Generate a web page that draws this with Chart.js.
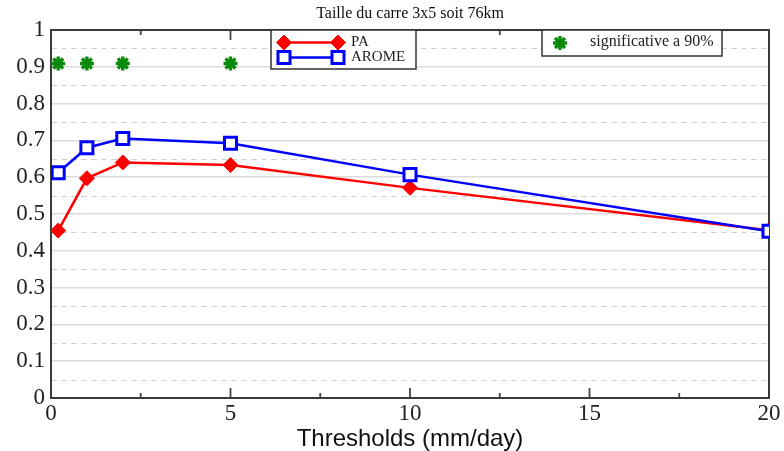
<!DOCTYPE html>
<html>
<head>
<meta charset="utf-8">
<script src="https://cdn.jsdelivr.net/npm/chart.js@4/dist/chart.umd.min.js"></script>
<style>
  html, body { margin: 0; padding: 0; background: #fff; }
  #wrap { width: 784px; height: 451px; }
</style>
</head>
<body>
<div id="wrap"><canvas id="scoreChart" width="784" height="451"></canvas></div>
<script>
// Seuils de pluie (mm/jour) et scores par modele
const thresholds = [0.2, 1, 2, 5, 10, 20];
const paScores = [0.455, 0.597, 0.640, 0.633, 0.571, 0.456];
const aromeScores = [0.612, 0.680, 0.705, 0.692, 0.607, 0.453];

// Seuils ou la difference est significative a 90%
const significantThresholds = [0.2, 1, 2, 5];
const significantMarks = [0.909, 0.909, 0.909, 0.909];

const xTicks = [0, 5, 10, 15, 20];
const xMinorTicks = [2.5, 7.5, 12.5, 17.5];
const yHalfSteps = [0.05, 0.15, 0.25, 0.35, 0.45, 0.55, 0.65, 0.75, 0.85, 0.95];

const chartTitle = 'Taille du carre 3x5 soit 76km';
const xTitle = 'Thresholds (mm/day)';

const serif = "'Liberation Serif', 'DejaVu Serif', serif";
const RED = '#ff0000';
const BLUE = '#0000ff';
const GREEN = '#0a8a0a';

const toPoints = (xs, ys) => xs.map((x, i) => ({ x: x, y: ys[i] }));

// grille en pointilles aux demi-pas, graduations internes, cadre et legendes
const matlabFrame = {
    id: 'matlabFrame',
    beforeDatasetsDraw(chart) {
        const { ctx, chartArea: a, scales } = chart;
        ctx.save();
        ctx.strokeStyle = '#d2d2d2';
        ctx.lineWidth = 1.2;
        ctx.setLineDash([6, 4]);
        yHalfSteps.forEach(v => {
            const y = Math.round(scales.y.getPixelForValue(v)) + 0.5;
            ctx.beginPath();
            ctx.moveTo(a.left, y);
            ctx.lineTo(a.right, y);
            ctx.stroke();
        });
        ctx.setLineDash([]);

        // graduations vers l'interieur, en bas et en haut
        ctx.strokeStyle = '#444';
        ctx.lineWidth = 1.8;
        const tick = (v, len) => {
            const x = scales.x.getPixelForValue(v);
            ctx.beginPath();
            ctx.moveTo(x, a.bottom);
            ctx.lineTo(x, a.bottom - len);
            ctx.moveTo(x, a.top);
            ctx.lineTo(x, a.top + len);
            ctx.stroke();
        };
        xTicks.forEach(v => tick(v, 10));
        xMinorTicks.forEach(v => tick(v, 5));

        // cadre
        ctx.strokeStyle = '#3a3a3a';
        ctx.lineWidth = 2;
        ctx.strokeRect(a.left, a.top, a.right - a.left, a.bottom - a.top);
        ctx.restore();
    },
    afterDraw(chart) {
        const { ctx, chartArea: a } = chart;
        const ds = chart.data.datasets;
        const drawPoint = Chart.helpers.drawPoint;

        const box = (x, y, w, h) => {
            ctx.fillStyle = '#fff';
            ctx.fillRect(x, y, w, h);
            ctx.strokeStyle = '#333';
            ctx.lineWidth = 1.5;
            ctx.strokeRect(x, y, w, h);
        };
        const sample = (d, x1, x2, y) => {
            ctx.strokeStyle = d.borderColor;
            ctx.lineWidth = d.borderWidth;
            ctx.beginPath();
            ctx.moveTo(x1, y);
            ctx.lineTo(x2, y);
            ctx.stroke();
            ctx.fillStyle = d.pointBackgroundColor;
            ctx.strokeStyle = d.pointBorderColor;
            ctx.lineWidth = d.pointBorderWidth;
            const opts = { pointStyle: d.pointStyle, radius: d.pointRadius, rotation: 0, borderWidth: d.pointBorderWidth };
            drawPoint(ctx, opts, x1, y);
            drawPoint(ctx, opts, x2, y);
        };

        ctx.save();
        ctx.font = '15px ' + serif;
        ctx.textBaseline = 'middle';
        ctx.textAlign = 'left';

        // legende des modeles
        const lx = a.left + 220, ly = a.top;
        box(lx, ly, 145, 39);
        sample(ds[2], lx + 13, lx + 67, ly + 12.5);
        sample(ds[1], lx + 13, lx + 67, ly + 27.5);
        ctx.fillStyle = '#222';
        ctx.fillText(ds[2].label, lx + 80, ly + 12.5);
        ctx.fillText(ds[1].label, lx + 80, ly + 27.5);

        // legende de significativite
        const sx = a.left + 491;
        box(sx, ly, 180, 26);
        const star = ds[0];
        ctx.strokeStyle = star.pointBorderColor;
        ctx.lineWidth = star.pointBorderWidth;
        drawPoint(ctx, { pointStyle: star.pointStyle, radius: star.pointRadius, rotation: 0, borderWidth: star.pointBorderWidth }, sx + 18, ly + 13);
        ctx.fillStyle = '#222';
        ctx.font = '16px ' + serif;
        ctx.fillText(star.label, sx + 48, ly + 12);
        ctx.restore();
    }
};

new Chart(document.getElementById('scoreChart'), {
    type: 'scatter',
    data: {
        datasets: [
            {
                label: 'significative a 90%',
                data: toPoints(significantThresholds, significantMarks),
                showLine: false,
                pointStyle: 'star',
                pointRadius: 7,
                pointBorderWidth: 3.4,
                pointBorderColor: GREEN,
                pointBackgroundColor: GREEN
            },
            {
                label: 'AROME',
                data: toPoints(thresholds, aromeScores),
                showLine: true,
                borderColor: BLUE,
                borderWidth: 2.5,
                pointStyle: 'rect',
                pointRadius: 8.5,
                pointBorderWidth: 3,
                pointBorderColor: BLUE,
                pointBackgroundColor: '#fff'
            },
            {
                label: 'PA',
                data: toPoints(thresholds, paScores),
                showLine: true,
                borderColor: RED,
                borderWidth: 2.5,
                pointStyle: 'rectRot',
                pointRadius: 7.5,
                pointBorderWidth: 1,
                pointBorderColor: RED,
                pointBackgroundColor: RED
            }
        ]
    },
    options: {
        responsive: false,
        animation: false,
        devicePixelRatio: 1,
        layout: { padding: { left: 0, right: 15, top: 0, bottom: 0 } },
        plugins: {
            legend: { display: false },
            tooltip: { enabled: false },
            title: {
                display: true,
                text: chartTitle,
                fullSize: false,
                color: '#111',
                font: { family: serif, size: 16, weight: 'normal' },
                padding: { top: 4, bottom: 6.8 }
            }
        },
        scales: {
            x: {
                type: 'linear',
                min: 0,
                max: 20,
                afterFit(scale) { scale.height = 53; },
                afterBuildTicks(scale) { scale.ticks = xTicks.map(v => ({ value: v })); },
                grid: { display: false, drawTicks: false },
                border: { display: false },
                ticks: {
                    color: '#222',
                    padding: 2,
                    maxRotation: 0,
                    font: { family: serif, size: 23 }
                },
                title: {
                    display: true,
                    text: xTitle,
                    color: '#111',
                    padding: { top: 0, bottom: 0 },
                    font: { family: "'Liberation Sans', Arial, sans-serif", size: 24, lineHeight: 1 }
                }
            },
            y: {
                min: 0,
                max: 1,
                afterFit(scale) { scale.width = 51; },
                grid: { color: '#dcdcdc', lineWidth: 1.5, drawTicks: false },
                border: { display: false },
                ticks: {
                    stepSize: 0.1,
                    color: '#222',
                    padding: 6,
                    font: { family: serif, size: 23 },
                    callback: v => String(Math.round(v * 10) / 10)
                }
            }
        }
    },
    plugins: [matlabFrame]
});
</script>
</body>
</html>
